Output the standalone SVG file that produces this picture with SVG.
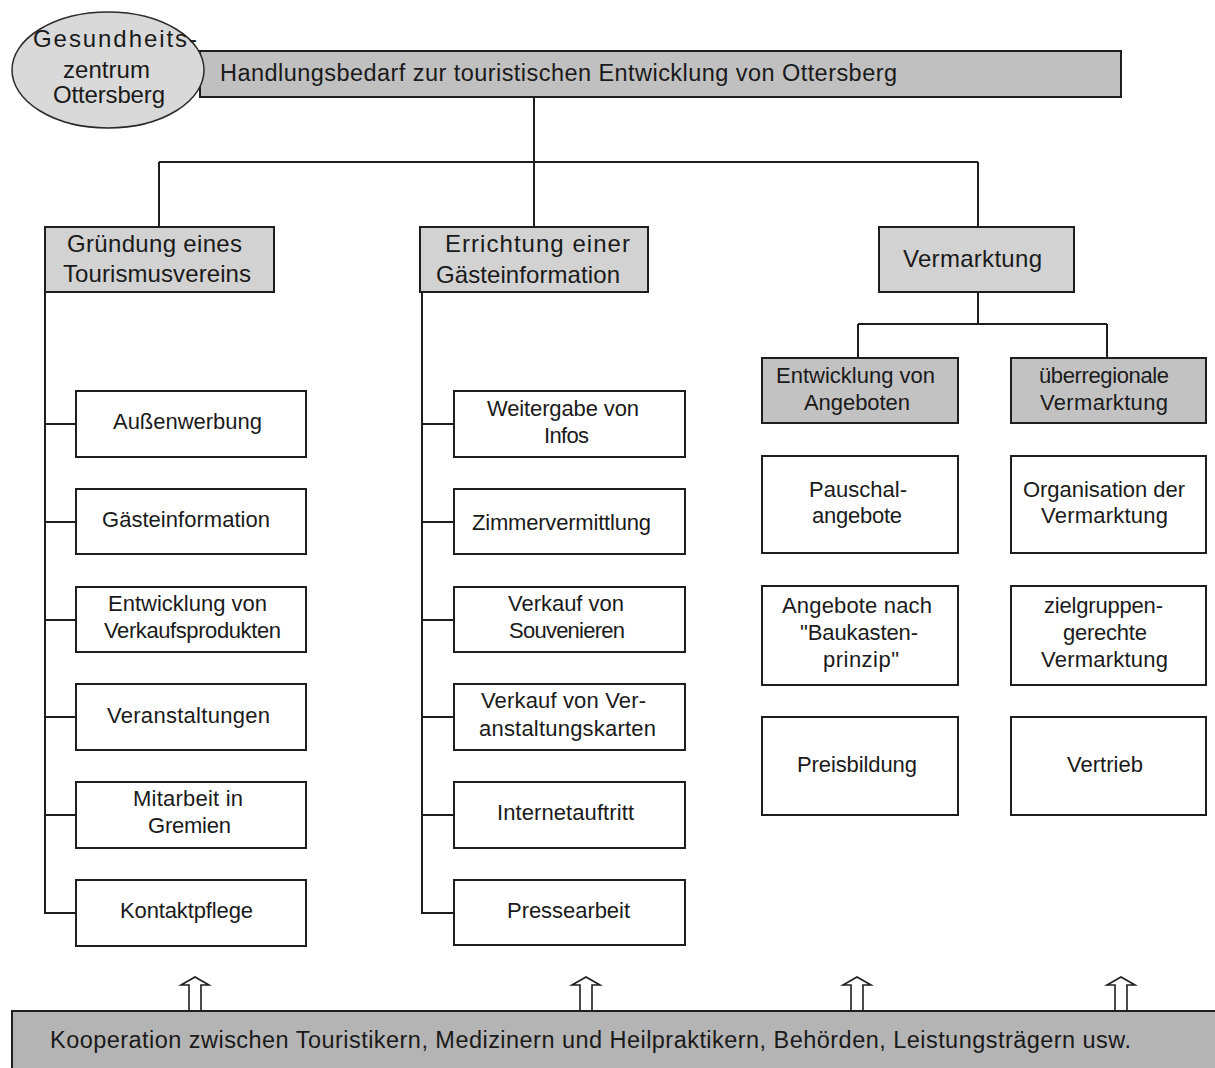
<svg xmlns="http://www.w3.org/2000/svg" width="1215" height="1068" viewBox="0 0 1215 1068">
<style>
  text { font-family: "Liberation Sans", Arial, sans-serif; font-size: 22px; fill: #1a1a1a; }
  .h2 { font-size: 24px; }
  .big { font-size: 23.5px; }
  .ell { font-size: 24px; }
  .box { stroke: #1e1e1e; stroke-width: 2; }
  .white { fill: #ffffff; }
  .g1 { fill: #c0c0c0; }
  .g2 { fill: #d2d2d2; }
  .g3 { fill: #c2c2c2; }
  .conn { fill: none; stroke: #1e1e1e; stroke-width: 2; }
  .arrow { fill: #ffffff; stroke: #1e1e1e; stroke-width: 1.6; }
</style>
<rect width="1215" height="1068" fill="#ffffff"/>

<g id="connectors">
  <path class="conn" d="M534,97 V162 M159,162 H978 M159,162 V227 M534,162 V227 M978,162 V227"/>
  <path class="conn" d="M978,292 V324 M858,324 H1107 M858,324 V358 M1107,324 V358"/>
  <path class="conn" d="M45,292 V913 H76 M45,424 H76 M45,522 H76 M45,620 H76 M45,717 H76 M45,815 H76"/>
  <path class="conn" d="M422,292 V913 H454 M422,424 H454 M422,522 H454 M422,620 H454 M422,717 H454 M422,815 H454"/>
</g>

<g id="top">
  <rect class="box g1" x="200" y="51" width="921" height="46"/>
  <text class="big" x="220" y="81" textLength="677">Handlungsbedarf zur touristischen Entwicklung von Ottersberg</text>
</g>

<g id="gesundheitszentrum">
  <ellipse cx="108" cy="70" rx="96" ry="58" fill="#d9d9d9" stroke="#2a2a2a" stroke-width="1.5"/>
  <text class="ell" x="33" y="47" textLength="164">Gesundheits-</text>
  <text class="ell" x="63" y="78" textLength="87">zentrum</text>
  <text class="ell" x="53" y="103" textLength="112">Ottersberg</text>
</g>

<g id="gruendung">
  <rect class="box g2" x="45" y="227" width="229" height="65"/>
  <text class="h2" x="67" y="252" textLength="175">Gründung eines</text>
  <text class="h2" x="63" y="282" textLength="188">Tourismusvereins</text>
</g>

<g id="errichtung">
  <rect class="box g2" x="420" y="227" width="228" height="65"/>
  <text class="h2" x="445" y="252" textLength="185">Errichtung einer</text>
  <text class="h2" x="436" y="283" textLength="184">Gästeinformation</text>
</g>

<g id="vermarktung">
  <rect class="box g2" x="879" y="227" width="195" height="65"/>
  <text class="h2" x="903" y="267" textLength="139">Vermarktung</text>
</g>

<g id="entwicklung-angebote">
  <rect class="box g3" x="762" y="358" width="196" height="65"/>
  <text x="776" y="383" textLength="159">Entwicklung von</text>
  <text x="804" y="410" textLength="106">Angeboten</text>
</g>

<g id="ueberregionale">
  <rect class="box g3" x="1011" y="358" width="195" height="65"/>
  <text x="1039" y="383" textLength="130">überregionale</text>
  <text x="1040" y="410" textLength="128">Vermarktung</text>
</g>

<!-- left column -->
<g id="aussenwerbung">
  <rect class="box white" x="76" y="391" width="230" height="66"/>
  <text x="113" y="429" textLength="149">Außenwerbung</text>
</g>
<g id="gaesteinformation">
  <rect class="box white" x="76" y="489" width="230" height="65"/>
  <text x="102" y="527" textLength="168">Gästeinformation</text>
</g>
<g id="verkaufsprodukte">
  <rect class="box white" x="76" y="587" width="230" height="65"/>
  <text x="108" y="611" textLength="159">Entwicklung von</text>
  <text x="104" y="638" textLength="177">Verkaufsprodukten</text>
</g>
<g id="veranstaltungen">
  <rect class="box white" x="76" y="684" width="230" height="66"/>
  <text x="107" y="723" textLength="163">Veranstaltungen</text>
</g>
<g id="mitarbeit">
  <rect class="box white" x="76" y="782" width="230" height="66"/>
  <text x="133" y="806" textLength="110">Mitarbeit in</text>
  <text x="148" y="833" textLength="83">Gremien</text>
</g>
<g id="kontaktpflege">
  <rect class="box white" x="76" y="880" width="230" height="66"/>
  <text x="120" y="918" textLength="133">Kontaktpflege</text>
</g>

<!-- middle column -->
<g id="weitergabe">
  <rect class="box white" x="454" y="391" width="231" height="66"/>
  <text x="487" y="416" textLength="152">Weitergabe von</text>
  <text x="544" y="443" textLength="45">Infos</text>
</g>
<g id="zimmervermittlung">
  <rect class="box white" x="454" y="489" width="231" height="65"/>
  <text x="472" y="530" textLength="179">Zimmervermittlung</text>
</g>
<g id="souvenire">
  <rect class="box white" x="454" y="587" width="231" height="65"/>
  <text x="508" y="611" textLength="116">Verkauf von</text>
  <text x="509" y="638" textLength="116">Souvenieren</text>
</g>
<g id="karten">
  <rect class="box white" x="454" y="684" width="231" height="66"/>
  <text x="481" y="708" textLength="165">Verkauf von Ver-</text>
  <text x="479" y="736" textLength="177">anstaltungskarten</text>
</g>
<g id="internet">
  <rect class="box white" x="454" y="782" width="231" height="66"/>
  <text x="497" y="820" textLength="137">Internetauftritt</text>
</g>
<g id="presse">
  <rect class="box white" x="454" y="880" width="231" height="65"/>
  <text x="507" y="918" textLength="123">Pressearbeit</text>
</g>

<!-- right columns -->
<g id="pauschal">
  <rect class="box white" x="762" y="456" width="196" height="97"/>
  <text x="809" y="497" textLength="98">Pauschal-</text>
  <text x="812" y="523" textLength="90">angebote</text>
</g>
<g id="baukasten">
  <rect class="box white" x="762" y="586" width="196" height="99"/>
  <text x="782" y="613" textLength="150">Angebote nach</text>
  <text x="800" y="640" textLength="118">"Baukasten-</text>
  <text x="823" y="667" textLength="76">prinzip"</text>
</g>
<g id="preisbildung">
  <rect class="box white" x="762" y="717" width="196" height="98"/>
  <text x="797" y="772" textLength="120">Preisbildung</text>
</g>
<g id="organisation">
  <rect class="box white" x="1011" y="456" width="195" height="97"/>
  <text x="1023" y="497" textLength="162">Organisation der</text>
  <text x="1041" y="523" textLength="127">Vermarktung</text>
</g>
<g id="zielgruppen">
  <rect class="box white" x="1011" y="586" width="195" height="99"/>
  <text x="1044" y="613" textLength="119">zielgruppen-</text>
  <text x="1063" y="640" textLength="84">gerechte</text>
  <text x="1041" y="667" textLength="127">Vermarktung</text>
</g>
<g id="vertrieb">
  <rect class="box white" x="1011" y="717" width="195" height="98"/>
  <text x="1067" y="772" textLength="76">Vertrieb</text>
</g>

<!-- bottom -->
<g id="arrows">
  <path class="arrow" d="M189,1011 V985 H181 L195,977 L209,985 H201 V1011"/>
  <path class="arrow" d="M580,1011 V985 H572 L586,977 L600,985 H592 V1011"/>
  <path class="arrow" d="M851,1011 V985 H843 L857,977 L871,985 H863 V1011"/>
  <path class="arrow" d="M1115,1011 V985 H1107 L1121,977 L1135,985 H1127 V1011"/>
</g>
<g id="kooperation">
  <rect x="12" y="1011" width="1215" height="80" fill="#b4b4b4" stroke="#1e1e1e" stroke-width="2"/>
  <text class="big" x="50" y="1048" textLength="1081">Kooperation zwischen Touristikern, Medizinern und Heilpraktikern, Behörden, Leistungsträgern usw.</text>
</g>
</svg>
